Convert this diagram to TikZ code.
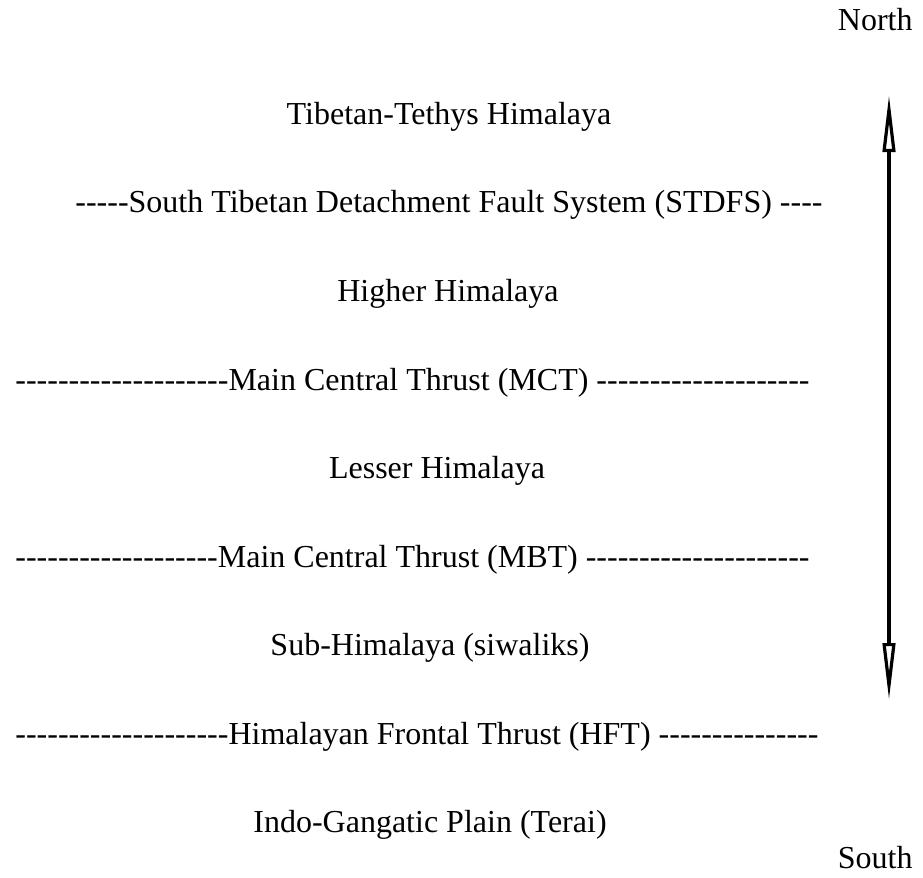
\documentclass[tikz,border=0pt]{standalone}
\usepackage{fontspec}
\setmainfont{Liberation Serif}
\usetikzlibrary{arrows.meta}
\newcount\dcnt
\newcommand\mydashes[1]{\dcnt=#1\relax\loop\ifnum\dcnt>0 \hbox{-}\advance\dcnt by -1\repeat}
\tikzset{
  lbl/.style={inner sep=0pt, font=\fontsize{16}{19}\selectfont},
  axis/.style={line width=1.6pt, {Triangle[open,length=28.5pt,width=6.2pt]}-{Triangle[open,length=28.5pt,width=6.2pt]}}
}
\begin{document}
\begin{tikzpicture}[x=0.5pt,y=-0.5pt]
\useasboundingbox (0,0) rectangle (923,878);
\node[lbl,anchor=base east] (north) at (913,31) {North};
\node[lbl,anchor=base] (tib) at (449,124.5) {Tibetan-Tethys Himalaya};
\node[lbl,anchor=base west] (stdfs) at (75,213) {\mydashes{5}South Tibetan Detachment Fault System (STDFS) \mydashes{4}};
\node[lbl,anchor=base] (higher) at (448,301.5) {Higher Himalaya};
\node[lbl,anchor=base west] (mct) at (15,390) {\mydashes{20}Main Central Thrust (MCT) \mydashes{20}};
\node[lbl,anchor=base] (lesser) at (437,478.5) {Lesser Himalaya};
\node[lbl,anchor=base west] (mbt) at (15,567) {\mydashes{19}Main Central Thrust (MBT) \mydashes{21}};
\node[lbl,anchor=base] (sub) at (430,655.5) {Sub-Himalaya (siwaliks)};
\node[lbl,anchor=base west] (hft) at (15,744) {\mydashes{20}Himalayan Frontal Thrust (HFT) \mydashes{15}};
\node[lbl,anchor=base] (indo) at (430,832.5) {Indo-Gangatic Plain (Terai)};
\node[lbl,anchor=base east] (south) at (913,868) {South};
\coordinate (atop) at (889,95);
\coordinate (abot) at (889,700);
\draw[axis] (atop) -- (abot);
\end{tikzpicture}
\end{document}
